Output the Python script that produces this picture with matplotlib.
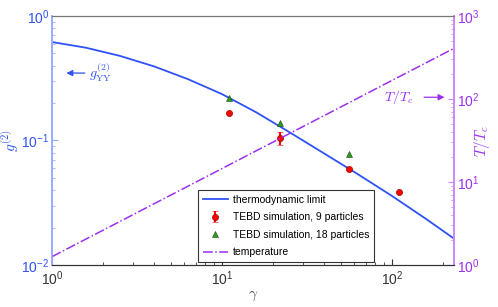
import matplotlib
matplotlib.use("Agg")
import matplotlib.pyplot as plt
import numpy as np

plt.rcParams['font.family'] = ['Liberation Sans', 'DejaVu Sans']
plt.rcParams['mathtext.fontset'] = 'cm'

# thermodynamic limit g2 vs gamma
gam_th = [1.0, 1.585, 2.512, 3.981, 6.31, 10.0, 15.85, 25.12, 39.81, 63.1, 100.0, 158.5, 232.0]
g2_th = [0.618, 0.556, 0.478, 0.394, 0.311, 0.236, 0.169, 0.116, 0.0789, 0.0536, 0.0359,
         0.0235, 0.0163]

# TEBD, 9 particles
gam_9 = [11.0, 22.1, 55.7, 110.0]
g2_9 = [0.165, 0.104, 0.0594, 0.0384]
err_9 = [0.0, 0.012, 0.0, 0.0]

# TEBD, 18 particles
gam_18 = [10.96, 22.1, 55.7]
g2_18 = [0.218, 0.137, 0.078]

# temperature T/Tc
gam_T = [1.0, 232.0]
T_T = [1.26, 408.0]

blue = '#2e52f5'
blue_light = '#9aaaff'
purple = '#9b30f0'
purple_light = '#cc88ff'

fig = plt.figure(figsize=(4.98, 3.07), dpi=100)
ax = fig.add_axes([0.1044, 0.1368, 0.8072, 0.8111])
ax2 = ax.twinx()

l1, = ax.plot(gam_th, g2_th, '-', color=blue, lw=1.3, label='thermodynamic limit')
p9 = ax.errorbar(gam_9, g2_9, yerr=err_9, fmt='o', color='red',
                 mec='#880000', mew=0.4, ms=4.5, ecolor='red', elinewidth=1.5,
                 capsize=2, label='TEBD simulation, 9 particles')
p18, = ax.plot(gam_18, g2_18, '^', color='#2e9a1e', mec='#1a4a10', mew=0.4, ms=5,
               ls='none', label='TEBD simulation, 18 particles')
lT, = ax2.plot(gam_T, T_T, '-.', color=purple, lw=1.1, label='temperature')

ax.set_xscale('log')
ax.set_yscale('log')
ax2.set_yscale('log')
ax.set_xlim(1, 232)
ax.set_ylim(1e-2, 1)
ax2.set_ylim(1, 1e3)

ax.tick_params(axis='x', which='both', direction='in', labelsize=10, colors='#333333',
               top=False)
ax.tick_params(axis='y', which='both', direction='in', labelsize=10, colors=blue_light,
               labelcolor=blue, pad=2)
ax2.tick_params(axis='y', which='both', direction='in', labelsize=10, colors=purple_light,
                labelcolor=purple, pad=2)
ax.tick_params(axis='x', which='major', length=4)
ax.tick_params(axis='x', which='minor', length=2)
for a in (ax, ax2):
    a.tick_params(axis='y', which='major', length=4)
    a.tick_params(axis='y', which='minor', length=2)

for a in (ax, ax2):
    a.spines['top'].set_color('#777777')
    a.spines['bottom'].set_color('#333333')
    a.spines['left'].set_color(blue_light)
    a.spines['right'].set_color(purple_light)
    a.spines['left'].set_linewidth(1.2)
    a.spines['right'].set_linewidth(1.2)

ax.set_xlabel(r'$\gamma$', color='#555555', fontsize=11, labelpad=0)
ax.set_ylabel(r'$g^{(2)}$', color=blue, fontsize=11, labelpad=0)
ax2.set_ylabel(r'$T/T_c$', color=purple, fontsize=11, rotation=90, labelpad=-5)

ax.annotate('', xy=(1.17, 0.348), xytext=(1.62, 0.348),
            arrowprops=dict(arrowstyle='-|>', color=blue, lw=0.9, mutation_scale=9))
ax.text(1.64, 0.348, r'$g^{(2)}_{\rm YY}$', color=blue, fontsize=10, va='center', ha='left')
ax2.annotate('', xy=(212, 105), xytext=(149, 105),
             arrowprops=dict(arrowstyle='-|>', color=purple, lw=0.9, mutation_scale=9))
ax2.text(134, 105, r'$T/T_c$', color=purple, fontsize=10, va='center', ha='right')

leg = ax.legend([l1, p9, p18, lT],
                ['thermodynamic limit', 'TEBD simulation, 9 particles',
                 'TEBD simulation, 18 particles', 'temperature'],
                loc='lower left', bbox_to_anchor=(0.363, 0.012), borderaxespad=0,
                fontsize=7.5, fancybox=False, edgecolor='#333333', framealpha=1,
                handlelength=2.4, handletextpad=0.5, borderpad=0.45, labelspacing=0.72)
leg.get_frame().set_linewidth(0.8)

fig.savefig('out.png', dpi=100)
